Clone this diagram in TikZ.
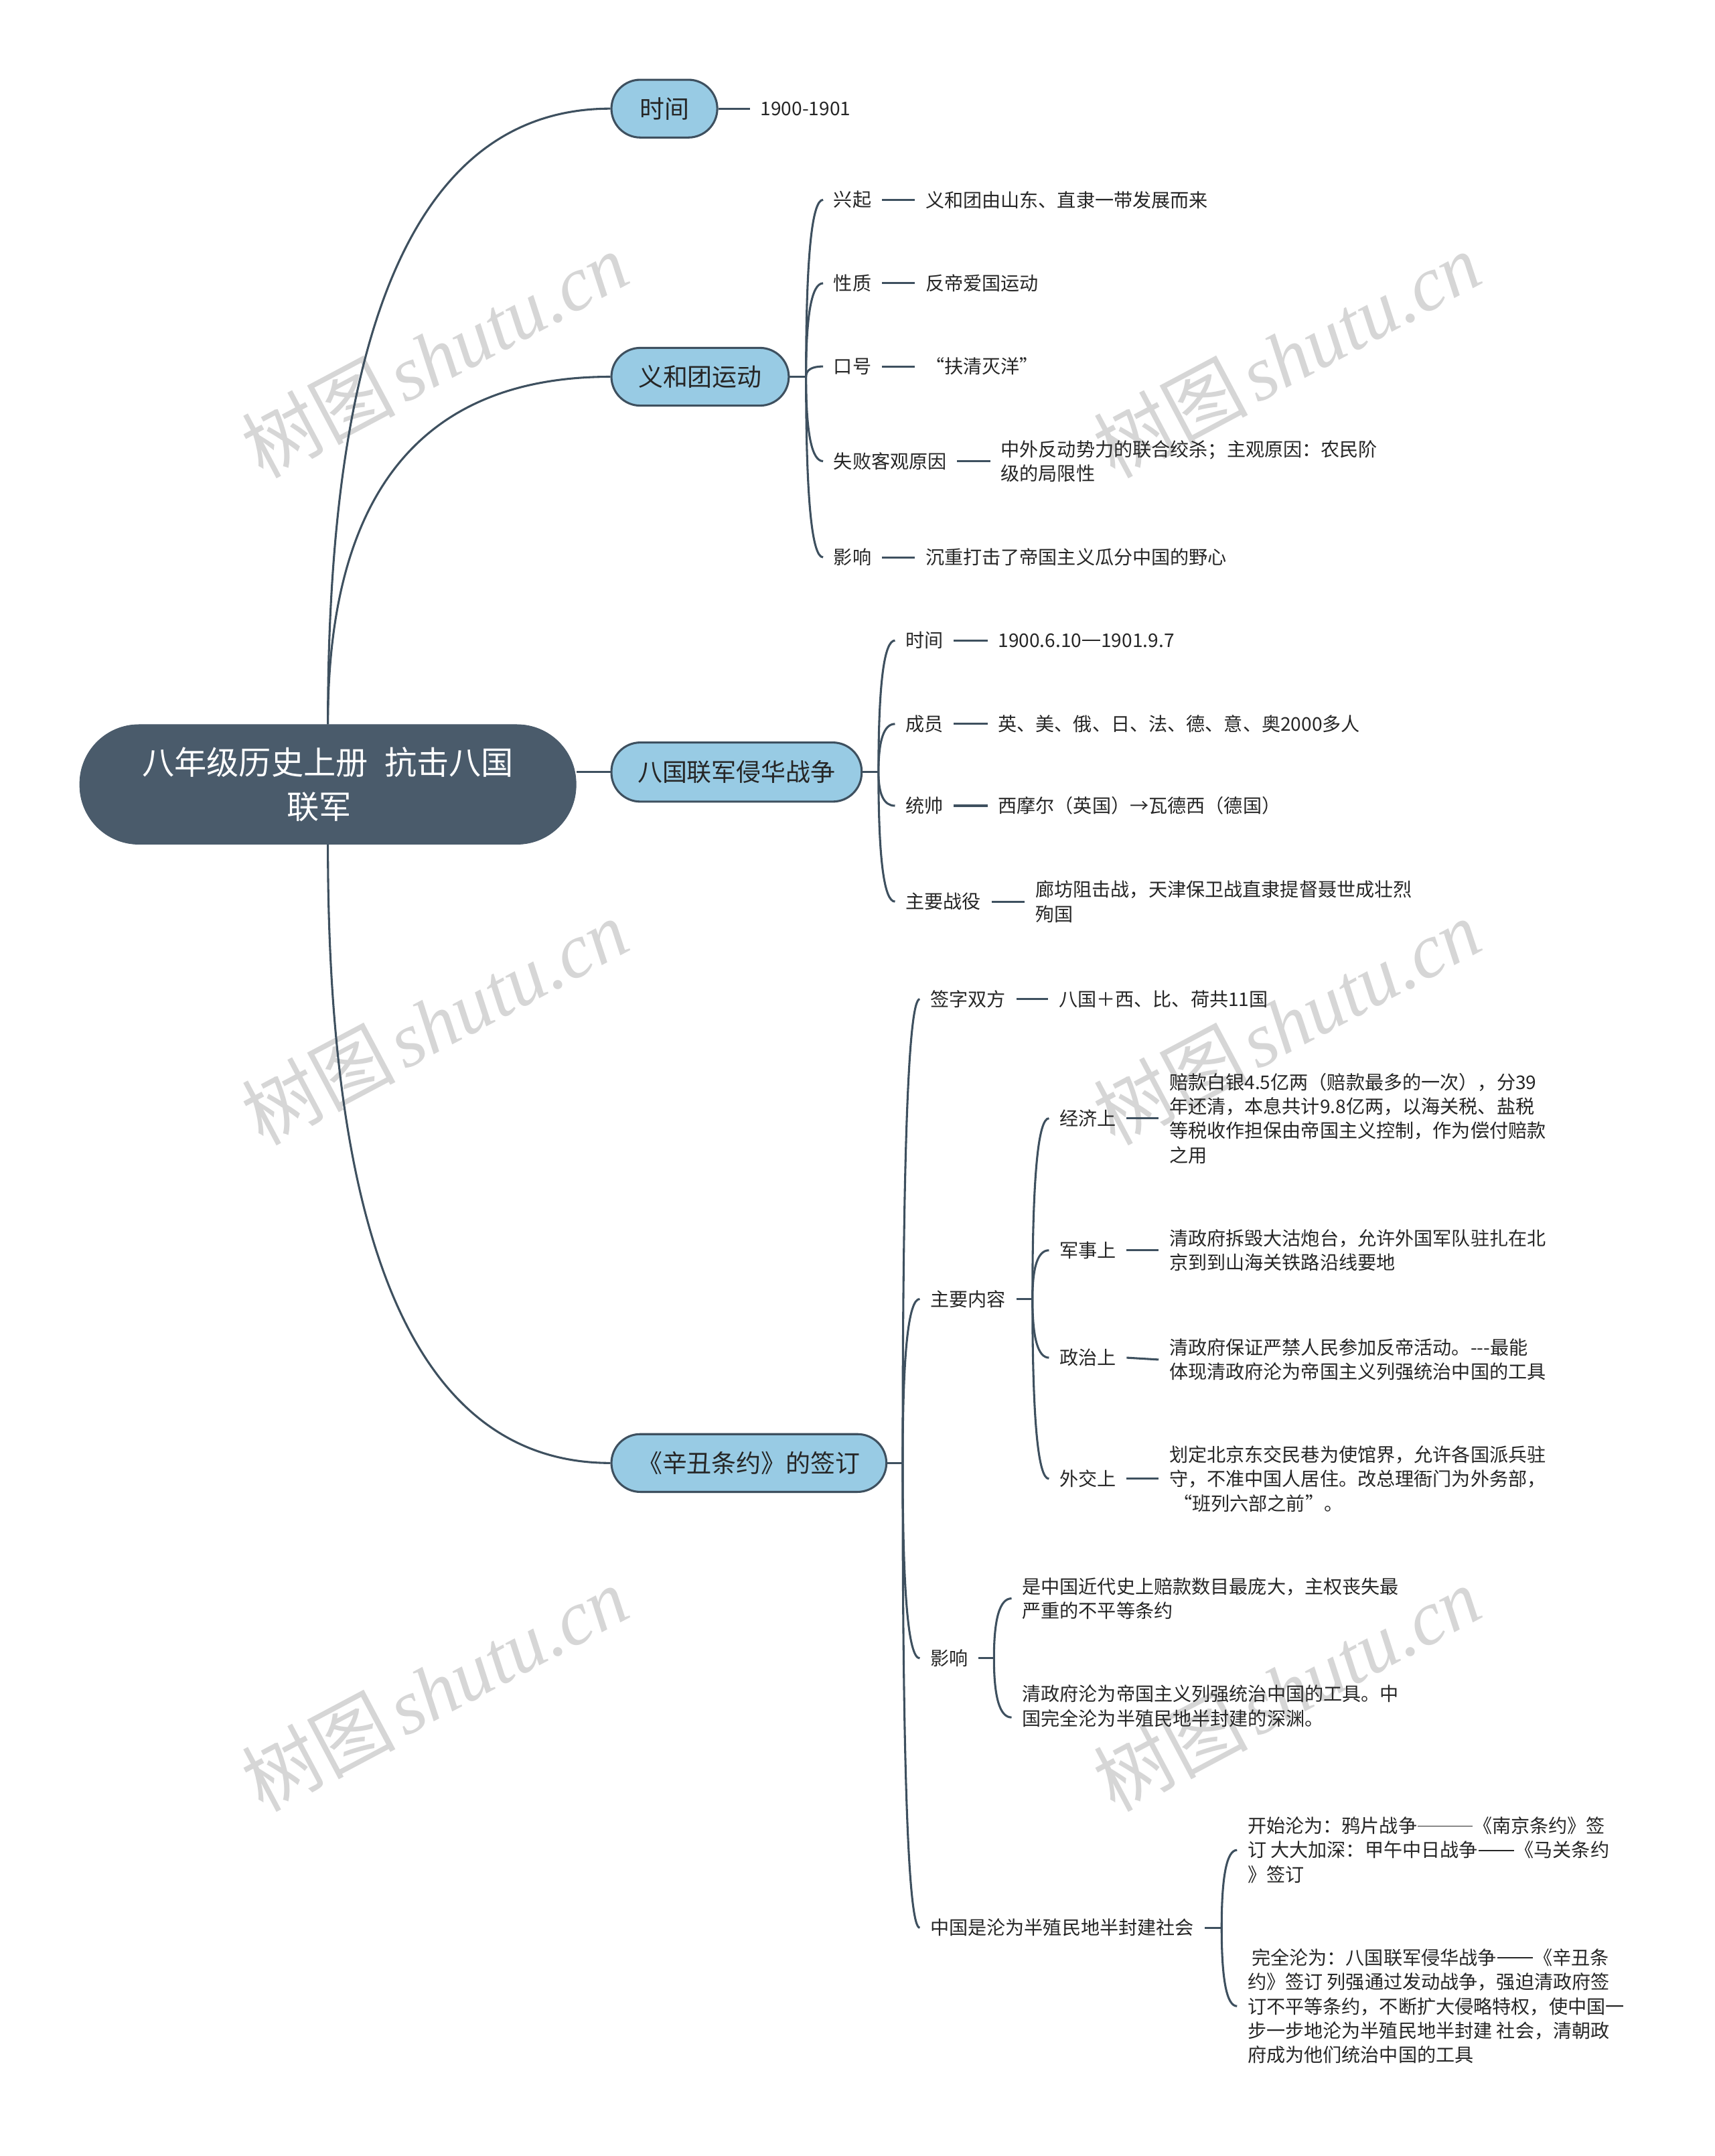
\documentclass[tikz,border=0pt]{standalone}
\usepackage{fontspec}
\setmainfont{Noto Sans CJK SC}
\newfontfamily\wmserif{Liberation Serif}
\usetikzlibrary{calc}
\definecolor{lineC}{HTML}{3E505F}
\definecolor{rootC}{HTML}{4A5B6B}
\definecolor{mainC}{HTML}{98CBE4}
\definecolor{txtC}{HTML}{262626}
\definecolor{wmC}{HTML}{D6D6D6}
\newcommand\emd[1]{\kern0.04em\rule[0.33em]{#1em}{0.065em}\kern0.04em}
\begin{document}
\begin{tikzpicture}[x=1pt,y=-1pt,
  conn/.style={draw=lineC, line width=1.5pt},
  qc/.style={to path={.. controls ($(\tikztostart)!0.6667!(\tikztostart|-\tikztotarget)$) and ($(\tikztotarget)!0.6667!(\tikztostart|-\tikztotarget)$) .. (\tikztotarget)}},
  rootst/.style={draw=rootC, fill=rootC, rounded corners=43pt, inner sep=0pt, align=center, text=white, font=\fontsize{23.5}{32.5}\selectfont},
  mainst/.style={draw=lineC, line width=1.5pt, fill=mainC, rounded corners=21pt, minimum height=42pt, inner sep=0pt, anchor=west, text=txtC, font=\fontsize{18}{22}\selectfont},
  lab/.style={anchor=west, inner xsep=7.5pt, inner ysep=1pt, align=left, text=txtC, font=\fontsize{13.7}{17.7}\selectfont},
  wm/.style={rotate=28, text=wmC, inner sep=0pt, font=\fontsize{56}{56}\selectfont}
]
\fill[white] (0,0) rectangle (1247,1568);
\useasboundingbox (0,0) rectangle (1247,1568);

% watermarks
\foreach \cx/\cy [count=\i] in {316/258, 936/258, 316/743, 936/743, 316/1228, 936/1228}
  \node[wm] (wm\i) at (\cx,\cy) {树图\hspace{0.1em}{\wmserif\itshape shutu.cn}};

% root
\node[rootst, minimum width=361pt, minimum height=87pt] (root) at (238.5,570.5) {八年级历史上册\hspace{0.5em}抗击八国\\联军\hspace*{13pt}};

% level 1
\node[mainst, minimum width=77pt] (m1) at (444,79) {时间};
\node[mainst, minimum width=129pt] (m2) at (444,274) {义和团运动};
\node[mainst, minimum width=182pt, minimum height=43pt] (m3) at (444,561.5) {八国联军侵华战争};
\node[mainst, minimum width=200pt] (m4) at (444,1064) {《辛丑条约》的签订};

\draw[conn] (root.north) to[qc] (m1.west);
\draw[conn] (root.north) to[qc] (m2.west);
\draw[conn] (m3.west -| root.east) -- (m3.west);
\draw[conn] (root.south) to[qc] (m4.west);

% 时间
\node[lab] (t1) at (545.5,79) {1900-1901};
\draw[conn] (m1.east) -- (t1.west);

% 义和团运动
\coordinate (j2) at (586.3,274);
\draw[conn] (m2.east) -- (j2);
\node[lab] (a1) at (598.7,145.3) {兴起};
\node[lab] (a2) at (598.7,206) {性质};
\node[lab] (a3) at (598.7,266.5) {口号};
\node[lab] (a4) at (598.7,335.4) {失败客观原因};
\node[lab] (a5) at (598.7,405.3) {影响};
\node[lab] (a1t) at (665.5,145.3) {义和团由山东、直隶一带发展而来};
\node[lab] (a2t) at (665.5,206) {反帝爱国运动};
\node[lab] (a3t) at (665.5,266.5) {“扶清灭洋”};
\node[lab] (a4t) at (720.3,335.4) {中外反动势力的联合绞杀；主观原因：农民阶\\级的局限性};
\node[lab] (a5t) at (665.5,405.3) {沉重打击了帝国主义瓜分中国的野心};
\foreach \k in {1,...,5} {
  \draw[conn] (j2) to[qc] (a\k.west);
  \draw[conn] (a\k.east) -- (a\k t.west);
}

% 八国联军侵华战争
\coordinate (j3) at (639,561.5);
\draw[conn] (m3.east) -- (j3);
\node[lab] (b1) at (651,465.8) {时间};
\node[lab] (b2) at (651,526.5) {成员};
\node[lab] (b3) at (651,586) {统帅};
\node[lab] (b4) at (651,655.7) {主要战役};
\node[lab] (b1t) at (718.3,465.8) {1900.6.10\emd{0.95}1901.9.7};
\node[lab] (b2t) at (718.3,526.5) {英、美、俄、日、法、德、意、奥2000多人};
\node[lab] (b3t) at (718.3,586) {西摩尔（英国）→瓦德西（德国）};
\node[lab] (b4t) at (745.5,655.7) {廊坊阻击战，天津保卫战直隶提督聂世成壮烈\\殉国};
\foreach \k in {1,...,4} {
  \draw[conn] (j3) to[qc] (b\k.west);
  \draw[conn] (b\k.east) -- (b\k t.west);
}

% 辛丑条约
\coordinate (j4) at (656.6,1064);
\draw[conn] (m4.east) -- (j4);
\node[lab] (c1) at (669,726.6) {签字双方};
\node[lab] (c2) at (669,944.7) {主要内容};
\node[lab] (c3) at (669,1206) {影响};
\node[lab] (c4) at (669,1402) {中国是沦为半殖民地半封建社会};
\foreach \k in {1,...,4} \draw[conn] (j4) to[qc] (c\k.west);

\node[lab] (c1t) at (762.5,726.6) {八国＋西、比、荷共11国};
\draw[conn] (c1.east) -- (c1t.west);

% 主要内容
\coordinate (j41) at (751,944.7);
\draw[conn] (c2.east) -- (j41);
\node[lab] (d1) at (763,813.3) {经济上};
\node[lab] (d2) at (763,909.3) {军事上};
\node[lab] (d3) at (763,987.4) {政治上};
\node[lab] (d4) at (763,1075.5) {外交上};
\node[lab] (d1t) at (842.8,813.3) {赔款白银4.5亿两（赔款最多的一次），分39\\年还清，本息共计9.8亿两，以海关税、盐税\\等税收作担保由帝国主义控制，作为偿付赔款\\之用};
\node[lab] (d2t) at (842.8,909.3) {清政府拆毁大沽炮台，允许外国军队驻扎在北\\京到到山海关铁路沿线要地};
\node[lab] (d3t) at (842.8,988.8) {清政府保证严禁人民参加反帝活动。{-}{-}{-}最能\\体现清政府沦为帝国主义列强统治中国的工具};
\node[lab] (d4t) at (842.8,1075.5) {划定北京东交民巷为使馆界，允许各国派兵驻\\守，不准中国人居住。改总理衙门为外务部，\\\hspace{3pt}“班列六部之前”。};
\foreach \k in {1,...,4} {
  \draw[conn] (j41) to[qc] (d\k.west);
  \draw[conn] (d\k.east) -- (d\k t.west);
}

% 影响
\coordinate (j42) at (723,1206);
\draw[conn] (c3.east) -- (j42);
\node[lab] (e1) at (735.8,1162.5) {是中国近代史上赔款数目最庞大，主权丧失最\\严重的不平等条约};
\node[lab] (e2) at (735.8,1249) {清政府沦为帝国主义列强统治中国的工具。中\\国完全沦为半殖民地半封建的深渊。\\\mbox{}};
\draw[conn] (j42) to[qc] (e1.west);
\draw[conn] (j42) to[qc] (e2.west);

% 中国是沦为半殖民地半封建社会
\coordinate (j43) at (888.6,1402);
\draw[conn] (c4.east) -- (j43);
\node[lab] (f1) at (899.8,1345.5) {开始沦为：鸦片战争\emd{2.9}《南京条约》签\\订 大大加深：甲午中日战争\emd{1.9}《马关条约\\》签订};
\node[lab] (f2) at (899.8,1459) {\hspace{3pt}完全沦为：八国联军侵华战争\emd{1.9}《辛丑条\\约》签订 列强通过发动战争，强迫清政府签\\订不平等条约，不断扩大侵略特权，使中国一\\步一步地沦为半殖民地半封建 社会，清朝政\\府成为他们统治中国的工具};
\draw[conn] (j43) to[qc] (f1.west);
\draw[conn] (j43) to[qc] (f2.west);
\end{tikzpicture}
\end{document}
